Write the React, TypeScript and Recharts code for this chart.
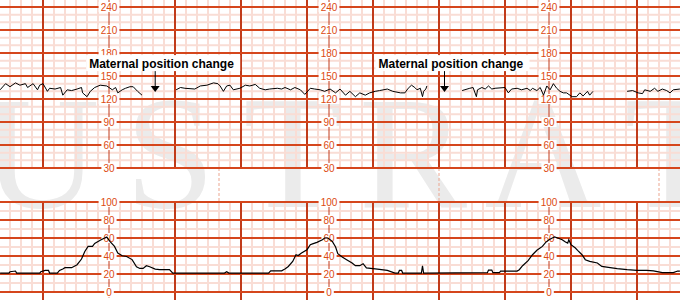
import { ComposedChart, Line, XAxis, YAxis, ReferenceLine, ReferenceDot } from 'recharts'

// Fetal heart rate trace (bpm), time in seconds; null = signal lost
const fhrTime = [
  -39, -34, -30, -25, -21, -16, -14, -9, -5, -3, 0, 4, 6, 11, 16, 18, 22, 26, 31, 35, 36, 40, 43, 47, 52, 58,
  63, 66, 68, 72, 75, 79, 82, 86, 90, 105, 121, 125, 129, 138, 143, 149, 155, 159, 161, 164, 167, 170, 173,
  179, 184, 188, 193, 197, 202, 206, 213, 217, 220, 225, 229, 234, 238, 243, 247, 252, 256, 261, 266, 270,
  275, 279, 284, 288, 293, 297, 302, 306, 313, 318, 325, 329, 332, 335, 338, 340, 343, 345, 346, 348, 349,
  365, 381, 388, 391, 394, 395, 399, 402, 405, 408, 411, 420, 423, 426, 431, 435, 440, 443, 445, 449, 452,
  455, 458, 461, 464, 467, 470, 473, 476, 481, 485, 488, 491, 495, 497, 500, 515, 531, 536, 541, 545, 547,
  552, 556, 559, 563, 567, 570, 573, 579,
]
const fhrBpm = [
  132, 140, 136, 141, 138, 140, 135, 140, 132, 138, 140, 130, 134, 133, 135, 125, 132, 131, 133, 135, 128,
  123, 130, 135, 138, 137, 132, 135, 128, 132, 134, 136, 136, 130, 125, null, 132, 135, 134, 133, 137, 138,
  141, 140, 137, 130, 137, 138, 132, 134, 138, 137, 139, 134, 132, 133, 134, 133, 135, 132, 135, 132, 126,
  134, 133, 132, 130, 133, 128, 133, 125, 130, 123, 128, 125, 128, 130, 131, 133, 130, 128, 128, 134, 138,
  135, 132, 134, 123, 130, 133, 137, null, 131, 134, 135, 123, 132, 135, 133, 137, 133, 134, 135, 128, 133,
  134, 132, 134, 131, 134, 131, 135, 125, 137, 132, 140, 134, 130, 128, 128, 123, 123, 128, 124, 130, 125,
  130, null, 130, 131, 128, 127, 132, 130, 134, 130, 133, 131, 128, 132, 133,
]

// Uterine activity (toco), same time base
const tocoTime = [
  -39, -31, -30, -25, -24, -3, -2, 2, 5, 6, 13, 15, 18, 20, 26, 31, 35, 38, 41, 45, 47, 52, 56, 58, 61, 65,
  68, 72, 76, 81, 85, 88, 91, 94, 97, 102, 106, 115, 118, 165, 167, 169, 205, 207, 217, 219, 220, 223, 227,
  230, 232, 235, 240, 243, 245, 249, 254, 256, 259, 263, 266, 268, 272, 276, 281, 284, 288, 291, 294, 304,
  313, 320, 323, 324, 326, 327, 344, 345, 346, 404, 405, 408, 409, 415, 416, 431, 433, 436, 441, 445, 449,
  454, 457, 460, 463, 465, 468, 472, 475, 477, 478, 480, 484, 486, 490, 493, 497, 504, 508, 514, 522, 531,
  540, 549, 555, 563, 573, 577, 579,
]
const tocoValue = [
  21, 21, 22.5, 23.3, 21, 21, 22.5, 24, 24, 21, 21, 24, 25.5, 27, 27, 30.3, 36.6, 45, 50.7, 50.7, 54, 57.4,
  60, 61, 56, 50.7, 43.3, 40.3, 39.5, 36, 28, 26.2, 26.2, 29.2, 28, 25.5, 24.8, 24.8, 21, 21, 22.5, 21, 21,
  23.5, 23.5, 25, 25.5, 28.4, 34, 41.4, 40.5, 43.3, 47, 52.6, 53.5, 55.1, 58.1, 60, 60, 56.3, 50, 42.6, 38.9,
  35.9, 32.2, 29.2, 29.2, 31.4, 26.7, 25.5, 24, 21, 21, 24, 24, 21, 21, 29, 21, 21.5, 24.4, 24.4, 21.5, 21.5,
  23.3, 23.3, 24.8, 29.2, 34.8, 41.4, 46.3, 50.7, 55.1, 58.1, 60, 61.1, 60, 58.1, 55.6, 54.3, 58.1, 52.6,
  48.9, 46.3, 41.4, 35.9, 34, 32.2, 28.4, 27.4, 25.9, 24.8, 24, 24, 23.5, 21.5, 21.5, 23.3, 23.3,
]

const fhrLabels = [240, 210, 180, 150, 120, 90, 60, 30]
const tocoLabels = [100, 80, 60, 40, 20, 0]
const labelTimes = [60, 260, 460]
const dividerTimes = [160, 360, 560]
const eventTimes = [102, 365]
const eventText = 'Maternal position change'
const watermark = ['U', 'S', 'T', 'R', 'A', 'T']
const watermarkX = [41, 170, 293, 413, 543, 674]

// page geometry (px)
const W = 680
const H = 300
const X0 = 43
const PX_PER_SEC = 1.1
const FHR_240_Y = 7
const FHR_PX = 23 / 30
const TOCO_100_Y = 202
const TOCO_PX = 0.9

const xDomain = [-X0 / PX_PER_SEC, (W - X0) / PX_PER_SEC]
const fhrDomain = [240 - (H - FHR_240_Y) / FHR_PX, 240 + FHR_240_Y / FHR_PX]
const tocoDomain = [100 - (H - TOCO_100_Y) / TOCO_PX, 100 + TOCO_100_Y / TOCO_PX]
const fhrTop = fhrDomain[1]
const fhrAtToco100 = 240 - (TOCO_100_Y - FHR_240_Y) / FHR_PX
const tocoBottom = tocoDomain[0]

const fhrData = fhrTime.map((t, i) => ({ t, bpm: fhrBpm[i] }))
const tocoData = tocoTime.map((t, i) => ({ t, toco: tocoValue[i] }))

const range = (from: number, to: number, step: number) => {
  const out: number[] = []
  for (let v = from; v <= to; v += step) out.push(v)
  return out
}

const MINOR = '#f9ddd5'
const MAJOR = '#d5461c'
const DARK = '#c13b1a'
const LABEL = '#dc4a10'

const minorTimes = range(-30, 570, 10).filter((t) => t % 60 !== 0 && !labelTimes.includes(t))
const thickTimes = range(0, 540, 60).filter((t) => !labelTimes.includes(t))
const tickTimes = range(0, 540, 60)

const AxisLabel = ({ cx, cy, value }: { cx: number; cy: number; value: number }) => {
  const w = String(value).length * 5.6 + 4
  return (
    <g>
      <rect x={cx - w / 2} y={cy - 5} width={w} height={10} fill='#fff' />
      <text
        x={cx}
        y={cy}
        dy='0.36em'
        textAnchor='middle'
        fontSize={10}
        fill={LABEL}
        fontFamily='Liberation Sans, Arial, sans-serif'
      >
        {value}
      </text>
    </g>
  )
}

const EventMarker = ({ cx, cy }: { cx: number; cy: number }) => {
  const tx = cx - 66
  return (
    <g>
      <rect x={tx - 3} y={cy - 37} width={154} height={16} fill='#fff' />
      <text
        x={tx}
        y={cy - 24.5}
        fontSize={12}
        fontWeight='bold'
        fill='#000'
        fontFamily='Liberation Sans, Arial, sans-serif'
      >
        {eventText}
      </text>
      <line x1={cx} y1={cy - 21} x2={cx} y2={cy - 6} stroke='#000' strokeWidth={1} />
      <polygon points={`${cx - 4.5},${cy - 6} ${cx + 4.5},${cy - 6} ${cx},${cy}`} fill='#000' />
    </g>
  )
}

export default function App() {
  return (
    <div style={{ position: 'absolute', top: 0, left: 0, width: W, height: H, background: '#fff' }}>
      <svg width={W} height={H} style={{ position: 'absolute', top: 0, left: 0 }}>
        {watermark.map((ch, i) => (
          <text
            key={i}
            x={watermarkX[i]}
            y={207}
            textAnchor='middle'
            fontSize={162}
            fill='#ebebeb'
            fontFamily='Liberation Serif, Times New Roman, serif'
          >
            {ch}
          </text>
        ))}
      </svg>
      <div style={{ position: 'absolute', top: 0, left: 0 }}>
        <ComposedChart width={W} height={H} margin={{ top: 0, right: 0, bottom: 0, left: 0 }}>
          <XAxis dataKey='t' type='number' domain={xDomain} allowDataOverflow hide />
          <YAxis yAxisId='fhr' type='number' domain={fhrDomain} allowDataOverflow hide />
          <YAxis yAxisId='toco' type='number' domain={tocoDomain} allowDataOverflow hide />

          {/* minor grid */}
          {range(40, 230, 10)
            .filter((v) => v % 30 !== 0)
            .map((v) => (
              <ReferenceLine key={'fm' + v} yAxisId='fhr' y={v} stroke={MINOR} strokeWidth={2} ifOverflow='visible' zIndex={-100} />
            ))}
          {[10, 30, 50, 70, 90].map((v) => (
            <ReferenceLine key={'tm' + v} yAxisId='toco' y={v} stroke={MINOR} strokeWidth={2} ifOverflow='visible' zIndex={-100} />
          ))}
          {minorTimes.map((t) => (
            <ReferenceLine
              key={'vf' + t}
              yAxisId='fhr'
              segment={[{ x: t, y: 30 }, { x: t, y: fhrTop }]}
              stroke={MINOR}
              strokeWidth={2}
              ifOverflow='visible'
              zIndex={-100}
            />
          ))}
          {minorTimes.map((t) => (
            <ReferenceLine
              key={'vt' + t}
              yAxisId='toco'
              segment={[{ x: t, y: 0 }, { x: t, y: 100 }]}
              stroke={MINOR}
              strokeWidth={2}
              ifOverflow='visible'
              zIndex={-100}
            />
          ))}

          {/* dashed separators between the panels */}
          {dividerTimes.map((t) => (
            <ReferenceLine
              key={'dv' + t}
              yAxisId='fhr'
              segment={[{ x: t, y: 30 }, { x: t, y: fhrAtToco100 }]}
              stroke='#eca58f'
              strokeWidth={1}
              strokeDasharray='3 2'
              ifOverflow='visible'
              zIndex={-90}
            />
          ))}

          {/* major grid */}
          {thickTimes.map((t) => (
            <ReferenceLine
              key={'Vf' + t}
              yAxisId='fhr'
              segment={[{ x: t, y: 30 }, { x: t, y: fhrTop }]}
              stroke={DARK}
              strokeWidth={2}
              ifOverflow='visible'
              zIndex={-80}
            />
          ))}
          {thickTimes.map((t) => (
            <ReferenceLine
              key={'Vt' + t}
              yAxisId='toco'
              segment={[{ x: t, y: 0 }, { x: t, y: 100 }]}
              stroke={DARK}
              strokeWidth={2}
              ifOverflow='visible'
              zIndex={-80}
            />
          ))}
          {tickTimes.map((t) => (
            <ReferenceLine
              key={'tk' + t}
              yAxisId='toco'
              segment={[{ x: t, y: 0 }, { x: t, y: tocoBottom }]}
              stroke={labelTimes.includes(t) ? '#e8937a' : DARK}
              strokeWidth={labelTimes.includes(t) ? 1 : 2}
              strokeDasharray={labelTimes.includes(t) ? '2 2' : undefined}
              ifOverflow='visible'
              zIndex={-80}
            />
          ))}
          {labelTimes.map((t) => (
            <ReferenceLine
              key={'lf' + t}
              yAxisId='fhr'
              segment={[{ x: t, y: 30 }, { x: t, y: fhrTop }]}
              stroke={DARK}
              strokeWidth={1}
              ifOverflow='visible'
              zIndex={-80}
            />
          ))}
          {labelTimes.map((t) => (
            <ReferenceLine
              key={'lt' + t}
              yAxisId='toco'
              segment={[{ x: t, y: 0 }, { x: t, y: 100 }]}
              stroke={DARK}
              strokeWidth={1}
              ifOverflow='visible'
              zIndex={-80}
            />
          ))}
          {fhrLabels.map((v) => (
            <ReferenceLine key={'FM' + v} yAxisId='fhr' y={v} stroke={MAJOR} strokeWidth={2} ifOverflow='visible' zIndex={-70} />
          ))}
          {tocoLabels.map((v) => (
            <ReferenceLine key={'TM' + v} yAxisId='toco' y={v} stroke={MAJOR} strokeWidth={2} ifOverflow='visible' zIndex={-70} />
          ))}

          {/* scale labels */}
          {labelTimes.map((t) =>
            fhrLabels.map((v) => (
              <ReferenceDot
                key={'fl' + t + '_' + v}
                yAxisId='fhr'
                x={t}
                y={v}
                r={0}
                ifOverflow='visible'
                zIndex={100}
                shape={(p: any) => <AxisLabel cx={p.cx} cy={p.cy} value={v} />}
              />
            ))
          )}
          {labelTimes.map((t) =>
            tocoLabels.map((v) => (
              <ReferenceDot
                key={'tl' + t + '_' + v}
                yAxisId='toco'
                x={t}
                y={v}
                r={0}
                ifOverflow='visible'
                zIndex={100}
                shape={(p: any) => <AxisLabel cx={p.cx} cy={p.cy} value={v} />}
              />
            ))
          )}

          <Line
            yAxisId='fhr'
            data={fhrData}
            dataKey='bpm'
            type='linear'
            stroke='#000'
            strokeWidth={1}
            dot={false}
            activeDot={false}
            connectNulls={false}
            isAnimationActive={false}
            zIndex={400}
          />
          <Line
            yAxisId='toco'
            data={tocoData}
            dataKey='toco'
            type='linear'
            stroke='#000'
            strokeWidth={1.2}
            dot={false}
            activeDot={false}
            isAnimationActive={false}
            zIndex={400}
          />

          {eventTimes.map((t) => (
            <ReferenceDot
              key={'ev' + t}
              yAxisId='fhr'
              x={t}
              y={129}
              r={0}
              ifOverflow='visible'
              zIndex={2000}
              shape={(p: any) => <EventMarker cx={p.cx} cy={p.cy} />}
            />
          ))}
        </ComposedChart>
      </div>
    </div>
  )
}
